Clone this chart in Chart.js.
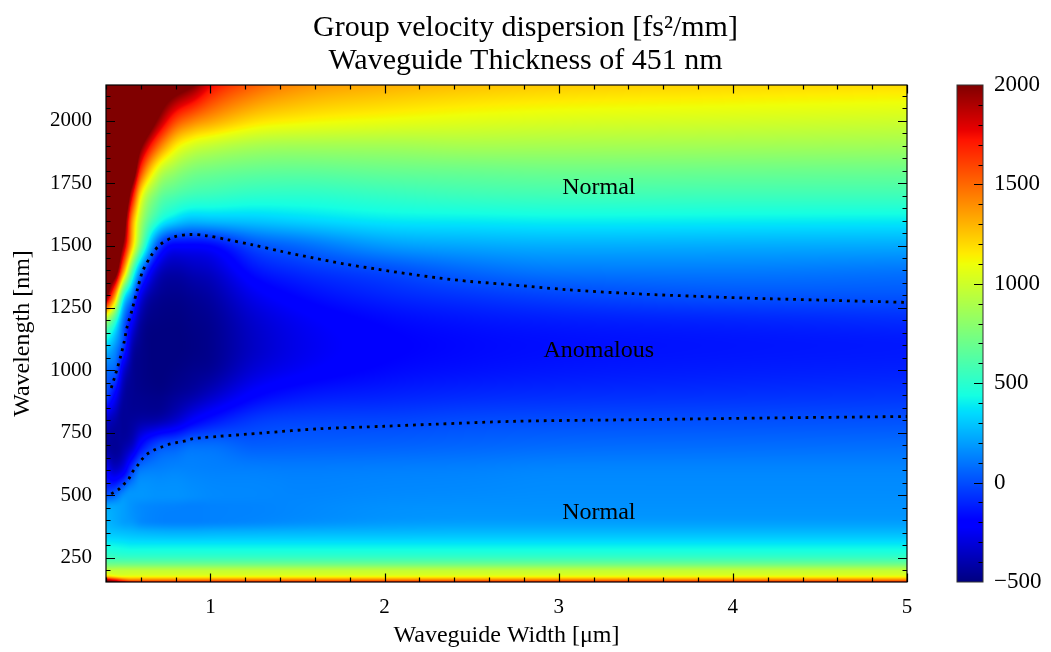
<!DOCTYPE html>
<html>
<head>
<meta charset="utf-8">
<script src="https://cdn.jsdelivr.net/npm/chart.js@4.4.1/dist/chart.umd.min.js"></script>
<style>
  html, body { margin: 0; padding: 0; background: #fff; }
</style>
</head>
<body>
<canvas id="gvdChart" width="1051" height="652"></canvas>
<script>
// grid columns: waveguide width [um]
const widths = [0.4, 0.45, 0.5, 0.55, 0.6, 0.7, 0.8, 0.9, 1.0, 1.25, 1.5, 2.0, 2.5, 3.0, 4.0, 5.0];
// grid rows: wavelength [nm]
const wavelengths = [150, 160, 175, 200, 225, 250, 300, 350, 400, 450, 500, 600, 700, 800,
    900, 1000, 1100, 1200, 1300, 1400, 1500, 1600, 1700, 1800, 1900, 2000, 2150];
// GVD [fs^2/mm], one row per wavelength, one value per width
const gvd = [
    [2100, 2050, 1950, 1850, 1800, 1800, 1800, 1800, 1800, 1800, 1800, 1800, 1800, 1800, 1800, 1800],
    [1900, 1750, 1550, 1450, 1450, 1450, 1450, 1450, 1450, 1450, 1450, 1450, 1450, 1450, 1450, 1450],
    [1250, 1150, 1100, 1100, 1100, 1100, 1100, 1100, 1100, 1100, 1100, 1100, 1100, 1100, 1100, 1100],
    [950, 950, 950, 950, 950, 950, 950, 950, 950, 950, 950, 950, 950, 950, 950, 950],
    [700, 700, 700, 700, 700, 700, 700, 700, 700, 700, 700, 700, 700, 700, 700, 700],
    [560, 550, 540, 540, 540, 540, 540, 540, 540, 540, 540, 540, 540, 540, 540, 540],
    [420, 410, 400, 390, 390, 390, 390, 390, 390, 390, 390, 390, 390, 390, 390, 390],
    [300, 290, 280, 270, 260, 250, 245, 245, 250, 255, 260, 265, 270, 270, 270, 270],
    [260, 230, 200, 180, 150, 130, 125, 125, 130, 140, 155, 180, 190, 190, 190, 190],
    [230, 220, 200, 170, 150, 135, 130, 125, 130, 135, 145, 165, 170, 170, 170, 170],
    [0, 60, 160, 180, 180, 170, 170, 160, 150, 145, 140, 150, 155, 160, 160, 160],
    [-220, -330, -250, -30, 110, 130, 140, 135, 130, 125, 120, 125, 130, 140, 140, 140],
    [-430, -450, -420, -350, -180, -10, 30, 80, 80, 40, 45, 50, 60, 70, 75, 80],
    [-330, -400, -450, -440, -420, -400, -330, -220, -150, -50, -25, -20, -5, 0, 5, 10],
    [0, -200, -420, -460, -470, -480, -450, -410, -350, -200, -140, -110, -90, -80, -70, -60],
    [80, 50, -300, -450, -480, -500, -490, -470, -450, -310, -240, -175, -150, -135, -120, -110],
    [350, 200, -30, -380, -470, -500, -500, -490, -470, -350, -270, -200, -170, -155, -140, -130],
    [900, 550, 100, -200, -420, -490, -495, -480, -460, -330, -250, -175, -140, -120, -100, -80],
    [2100, 1400, 500, 130, -250, -450, -470, -450, -420, -260, -180, -100, -55, -20, 15, 20],
    [2300, 2200, 1400, 640, 140, -330, -400, -370, -340, -150, -80, -5, 70, 110, 115, 100],
    [2500, 2400, 1950, 1250, 700, 0, -200, -200, -180, 0, 70, 190, 225, 240, 235, 230],
    [2500, 2500, 2200, 1400, 900, 480, 330, 270, 280, 300, 330, 380, 390, 400, 395, 390],
    [2500, 2500, 2400, 1800, 1150, 715, 605, 555, 540, 505, 500, 530, 555, 565, 560, 560],
    [2500, 2500, 2400, 2250, 1640, 1030, 840, 750, 720, 680, 670, 690, 700, 710, 705, 700],
    [2500, 2500, 2500, 2400, 2050, 1510, 1165, 1025, 970, 890, 870, 870, 885, 880, 870, 860],
    [2500, 2500, 2500, 2500, 2400, 1960, 1600, 1440, 1350, 1190, 1135, 1090, 1060, 1040, 1020, 1000],
    [2500, 2500, 2500, 2500, 2500, 2300, 2200, 2050, 1800, 1550, 1420, 1330, 1280, 1250, 1220, 1200]
];

// zero-dispersion contours (dotted)
const upperW = [0.43, 0.445, 0.465, 0.484, 0.503, 0.52, 0.55, 0.58, 0.61, 0.66, 0.71, 0.79, 0.88, 0.97,
    1.1, 1.24, 1.41, 1.59, 1.77, 1.95, 2.13, 2.31, 2.49, 2.67, 3.05, 3.43, 3.81, 4.2, 4.58, 5.0];
const upperL = [929, 962, 1009, 1056, 1110, 1170, 1243, 1323, 1396, 1460, 1503, 1534, 1544, 1540,
    1523, 1503, 1476, 1450, 1426, 1406, 1387, 1370, 1356, 1346, 1323, 1307, 1296, 1287, 1280, 1272];
const lowerW = [0.43, 0.47, 0.5, 0.53, 0.55, 0.58, 0.61, 0.64, 0.68, 0.72, 0.77, 0.81, 0.86, 0.9,
    0.95, 1.04, 1.3, 1.63, 2.0, 2.28, 2.76, 3.43, 4.19, 5.0];
const lowerL = [505, 522, 542, 564, 591, 618, 646, 666, 682, 693, 705, 711, 718, 726,
    730, 735, 749, 766, 776, 784, 796, 802, 809, 815];

// region labels
const regionText = ['Normal', 'Anomalous', 'Normal'];
const regionW = [3.23, 3.23, 3.23];
const regionL = [1732, 1080, 430];

// tick labels
const xTicks = [1, 2, 3, 4, 5];
const yTicks = [250, 500, 750, 1000, 1250, 1500, 1750, 2000];
const cbTicks = [-500, 0, 500, 1000, 1500, 2000];

const FONT = "'Liberation Serif', 'DejaVu Serif', serif";
const cbMin = -500, cbMax = 2000;

// matplotlib "jet"
const jetR = [[0, 0], [0.35, 0], [0.66, 1], [0.89, 1], [1, 0.5]];
const jetG = [[0, 0], [0.125, 0], [0.375, 1], [0.64, 1], [0.91, 0], [1, 0]];
const jetB = [[0, 0.5], [0.11, 1], [0.34, 1], [0.65, 0], [1, 0]];

function seg(pts, t) {
    for (let i = 1; i < pts.length; i++) {
        if (t <= pts[i][0]) {
            const [x0, y0] = pts[i - 1], [x1, y1] = pts[i];
            return y0 + (y1 - y0) * (t - x0) / (x1 - x0);
        }
    }
    return pts[pts.length - 1][1];
}

function jet(v) {
    let t = (v - cbMin) / (cbMax - cbMin);
    t = Math.max(0, Math.min(1, t));
    return [seg(jetR, t) * 255, seg(jetG, t) * 255, seg(jetB, t) * 255];
}

function span(arr, v) {
    let i = 0;
    while (i < arr.length - 2 && v > arr[i + 1]) i++;
    const f = Math.max(0, Math.min(1, (v - arr[i]) / (arr[i + 1] - arr[i])));
    return [i, f];
}

// monotone cubic (Fritsch-Carlson) slopes, used for smooth shading between grid nodes
function monoSlopes(xs, ys) {
    const n = xs.length, d = [], m = new Array(n);
    for (let i = 0; i < n - 1; i++) d.push((ys[i + 1] - ys[i]) / (xs[i + 1] - xs[i]));
    m[0] = d[0]; m[n - 1] = d[n - 2];
    for (let i = 1; i < n - 1; i++) m[i] = d[i - 1] * d[i] <= 0 ? 0 : (d[i - 1] + d[i]) / 2;
    for (let i = 0; i < n - 1; i++) {
        if (d[i] === 0) { m[i] = 0; m[i + 1] = 0; continue; }
        const a = m[i] / d[i], b = m[i + 1] / d[i], s = a * a + b * b;
        if (s > 9) { const t = 3 / Math.sqrt(s); m[i] = t * a * d[i]; m[i + 1] = t * b * d[i]; }
    }
    return m;
}

function monoEval(xs, ys, m, v) {
    const [i, t] = span(xs, v);
    const h = xs[i + 1] - xs[i], t2 = t * t, t3 = t2 * t;
    return (2 * t3 - 3 * t2 + 1) * ys[i] + (t3 - 2 * t2 + t) * h * m[i]
        + (-2 * t3 + 3 * t2) * ys[i + 1] + (t3 - t2) * h * m[i + 1];
}

// heatmap
const heatmapPlugin = {
    id: 'heatmap',
    beforeDatasetsDraw(chart) {
        const { ctx, chartArea: a, scales: { x, y } } = chart;
        const left = Math.round(a.left), top = Math.round(a.top);
        const w = Math.round(a.right) - left, h = Math.round(a.bottom) - top;
        const img = ctx.createImageData(w, h);
        const pxW = [], pxL = [];
        for (let px = 0; px < w; px++) pxW.push(x.getValueForPixel(left + px + 0.5));
        for (let py = 0; py < h; py++) pxL.push(y.getValueForPixel(top + py + 0.5));
        // along width for every grid row
        const rowsAtPx = gvd.map(row => {
            const m = monoSlopes(widths, row);
            return pxW.map(v => monoEval(widths, row, m, v));
        });
        for (let px = 0; px < w; px++) {
            const col = rowsAtPx.map(r => r[px]);
            const m = monoSlopes(wavelengths, col);
            for (let py = 0; py < h; py++) {
                const c = jet(monoEval(wavelengths, col, m, pxL[py]));
                const k = (py * w + px) * 4;
                img.data[k] = c[0]; img.data[k + 1] = c[1]; img.data[k + 2] = c[2]; img.data[k + 3] = 255;
            }
        }
        ctx.putImageData(img, left, top);

        // colorbar
        const cb = chart.scales.cb;
        const bx = a.right + 50, bw = 26;
        for (let py = Math.round(cb.top); py < Math.round(cb.bottom); py++) {
            const c = jet(cb.getValueForPixel(py + 0.5));
            ctx.fillStyle = `rgb(${c[0]},${c[1]},${c[2]})`;
            ctx.fillRect(bx, py, bw, 1);
        }
    },
    afterDatasetsDraw(chart) {
        const { ctx, scales: { x, y } } = chart;
        ctx.save();
        ctx.fillStyle = '#000';
        ctx.font = `24px ${FONT}`;
        ctx.textAlign = 'center';
        ctx.textBaseline = 'middle';
        regionText.forEach((t, i) => ctx.fillText(t, x.getPixelForValue(regionW[i]), y.getPixelForValue(regionL[i])));
        ctx.restore();
    }
};

// frame with inward ticks on all sides, colorbar ticks
const frameTicksPlugin = {
    id: 'frameTicks',
    afterDraw(chart) {
        const { ctx, chartArea: a, scales: { x, y, cb } } = chart;
        ctx.save();
        ctx.strokeStyle = '#000';
        ctx.lineWidth = 1.2;
        ctx.strokeRect(a.left, a.top, a.right - a.left, a.bottom - a.top);
        ctx.beginPath();
        for (let v = 0.4; v <= 5.0001; v += 0.2) {
            const px = Math.round(x.getPixelForValue(v)) + 0.5;
            const len = Math.abs(v - Math.round(v)) < 1e-6 ? 8.5 : 4.5;
            ctx.moveTo(px, a.bottom); ctx.lineTo(px, a.bottom - len);
            ctx.moveTo(px, a.top); ctx.lineTo(px, a.top + len);
        }
        for (let v = 200; v <= 2143; v += 50) {
            const py = Math.round(y.getPixelForValue(v)) + 0.5;
            const len = v % 250 === 0 ? 9 : 4.5;
            ctx.moveTo(a.left, py); ctx.lineTo(a.left + len, py);
            ctx.moveTo(a.right, py); ctx.lineTo(a.right - len, py);
        }
        const bx = a.right + 50, bw = 26;
        for (let v = -400; v < 2000; v += 100) {
            const py = Math.round(cb.getPixelForValue(v)) + 0.5;
            const len = v % 500 === 0 ? 9 : 4.5;
            ctx.moveTo(bx + bw, py); ctx.lineTo(bx + bw - len, py);
        }
        ctx.stroke();
        ctx.lineWidth = 1;
        ctx.strokeStyle = '#333';
        ctx.strokeRect(bx, cb.top, bw, cb.bottom - cb.top);
        ctx.restore();
    }
};

function fixBox(size, horizontal) {
    return (s) => {
        if (horizontal) s.height = size; else s.width = size;
        s.paddingLeft = s.paddingRight = s.paddingTop = s.paddingBottom = 0;
    };
}

const tickFont = { family: FONT, size: 21 };
const titleFont = { family: FONT, size: 24 };

const ctx = document.getElementById('gvdChart').getContext('2d');
const gvdChart = new Chart(ctx, {
    type: 'scatter',
    data: {
        datasets: [{
            label: 'Zero GVD (upper)',
            data: upperW.map((w, i) => ({ x: w, y: upperL[i] })),
            showLine: true,
            borderColor: '#000',
            borderWidth: 2.8,
            borderDash: [2.8, 4.9],
            pointRadius: 0,
            tension: 0.3
        }, {
            label: 'Zero GVD (lower)',
            data: lowerW.map((w, i) => ({ x: w, y: lowerL[i] })),
            showLine: true,
            borderColor: '#000',
            borderWidth: 2.8,
            borderDash: [2.8, 4.9],
            pointRadius: 0,
            tension: 0.3
        }]
    },
    options: {
        responsive: false,
        animation: false,
        layout: { padding: 0 },
        plugins: {
            legend: { display: false },
            tooltip: { enabled: false },
            title: {
                display: true,
                text: ['Group velocity dispersion [fs\u00B2/mm]', 'Waveguide Thickness of 451 nm'],
                color: '#000',
                font: { family: FONT, size: 30, weight: 'normal', lineHeight: 1.1 },
                padding: { top: 12, bottom: 7 }
            }
        },
        scales: {
            x: {
                type: 'linear',
                min: 0.4,
                max: 5,
                afterBuildTicks: (s) => { s.ticks = xTicks.map(v => ({ value: v })); },
                afterFit: fixBox(70, true),
                grid: { display: false, drawTicks: false },
                border: { display: false },
                ticks: { font: tickFont, color: '#000', padding: 13, maxRotation: 0, callback: v => String(v) },
                title: { display: true, text: 'Waveguide Width [\u03BCm]', color: '#000', font: titleFont, padding: { top: 4, bottom: 2 } }
            },
            y: {
                type: 'linear',
                min: 152,
                max: 2143,
                afterBuildTicks: (s) => { s.ticks = yTicks.map(v => ({ value: v })); },
                afterFit: fixBox(106, false),
                grid: { display: false, drawTicks: false },
                border: { display: false },
                ticks: { font: tickFont, color: '#000', padding: 14, callback: v => String(v) },
                title: { display: true, text: 'Wavelength [nm]', color: '#000', font: titleFont, padding: { top: 8, bottom: 4 } }
            },
            cb: {
                type: 'linear',
                position: 'right',
                min: cbMin,
                max: cbMax,
                afterBuildTicks: (s) => { s.ticks = cbTicks.map(v => ({ value: v })); },
                afterFit: fixBox(144, false),
                grid: { display: false, drawTicks: false },
                border: { display: false },
                ticks: {
                    font: { family: FONT, size: 23 }, color: '#000', padding: 87,
                    callback: v => v < 0 ? '\u2212' + Math.abs(v) : String(v)
                }
            }
        }
    },
    plugins: [heatmapPlugin, frameTicksPlugin]
});
</script>
</body>
</html>
